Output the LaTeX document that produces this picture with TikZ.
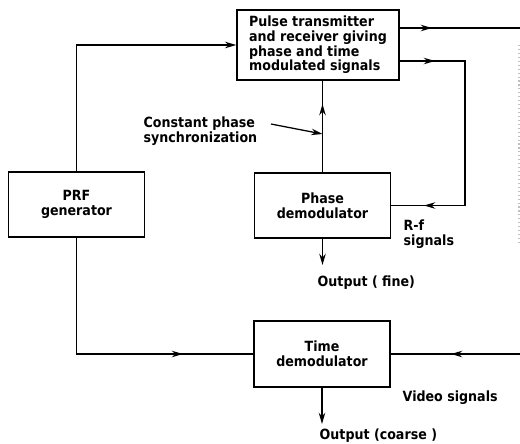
\documentclass[tikz,border=0pt]{standalone}
\usepackage{fontspec}
\setmainfont{DejaVu Sans Condensed}
\usepackage{tikz}
\usetikzlibrary{calc, arrows.meta, positioning}

\begin{document}
\begin{tikzpicture}[>={Stealth[length=8pt, width=4.6pt]}, x=0.025cm, y=-0.025cm,
    line width=1pt,
    blok/.style={draw, minimum width=3.4cm, minimum height=1.63cm, align=center,
                 font=\fontsize{10}{10.5}\selectfont\bfseries},
    nhan/.style={align=left, inner sep=0pt, font=\fontsize{10}{10.5}\selectfont\bfseries}]

    % =================================================================
    % 1. KHUNG HINH
    % =================================================================
    \useasboundingbox (0,0) rectangle (520,443);

    % =================================================================
    % 2. CAC KHOI
    % =================================================================
    \node[blok, minimum width=4.05cm, minimum height=1.75cm, align=left] (TX) at (318,45)
        {Pulse transmitter\\and receiver giving\\phase and time\\modulated signals};
    \node[blok] (PRF) at (76.5,204.5) {PRF\\generator};
    \node[blok] (PD) at (322.5,205.5) {Phase\\demodulator};
    \node[blok, minimum height=1.65cm] (TD) at (322,354) {Time\\demodulator};

    % =================================================================
    % 3. TOA DO PHU
    % =================================================================
    \coordinate (E1) at (520,28);     % ra mep phai (tren)
    \coordinate (K1) at (465,61);     % goc tin hieu R-f
    \coordinate (E2) at (520,354);    % tin hieu video vao
    \coordinate (O1) at (322.5,265);  % dau ra (fine)
    \coordinate (O2) at (322,424);    % dau ra (coarse)

    % =================================================================
    % 4. CAC DUONG NOI
    % =================================================================
    % PRF -> bo phat/thu
    \draw[->] (PRF.north) -- (PRF.north |- TX.west) -- (TX.west);

    % bo phat/thu -> ra ngoai
    \draw (TX.east |- E1) -- (E1);
    \draw[->] (TX.east |- E1) -- (432,28);

    % bo phat/thu -> giai dieu pha (tin hieu R-f)
    \draw (TX.east |- K1) -- (K1) -- (K1 |- PD.east) -- (PD.east);
    \draw[->] (TX.east |- K1) -- (435,61);
    \draw[->] (K1 |- PD.east) -- (424,205.5);

    % giai dieu pha -> bo phat/thu (dong bo pha)
    \draw (PD.north) -- (PD.north |- TX.south);
    \draw[->] (PD.north) -- (322.5,104);

    % PRF -> giai dieu thoi gian
    \draw (PRF.south) -- (PRF.south |- TD.west) -- (TD.west);
    \draw[->] (PRF.south |- TD.west) -- (183,354);

    % tin hieu video -> giai dieu thoi gian
    \draw (E2) -- (TD.east);
    \draw[->] (E2) -- (451,354);

    % cac dau ra
    \draw[->] (PD.south) -- (O1);
    \draw[->] (TD.south) -- (O2);

    % vet cham mo o mep phai
    \draw[gray!50, dotted, line width=0.8pt] (519,45) -- (519,245);

    % =================================================================
    % 5. NHAN
    % =================================================================
    \node[nhan, anchor=west] (sync) at (143,131) {Constant phase\\synchronization};
    \draw[->, line width=0.9pt] (271,124) -- (322.5,134);

    \node[nhan, anchor=west] (rf) at (403,234) {R-f\\signals};
    \node[nhan, anchor=west] (fine) at (317,283) {Output ( fine)};
    \node[nhan, anchor=west] (video) at (402,398) {Video signals};
    \node[nhan, anchor=west] (coarse) at (319,436) {Output (coarse )};

\end{tikzpicture}
\end{document}
